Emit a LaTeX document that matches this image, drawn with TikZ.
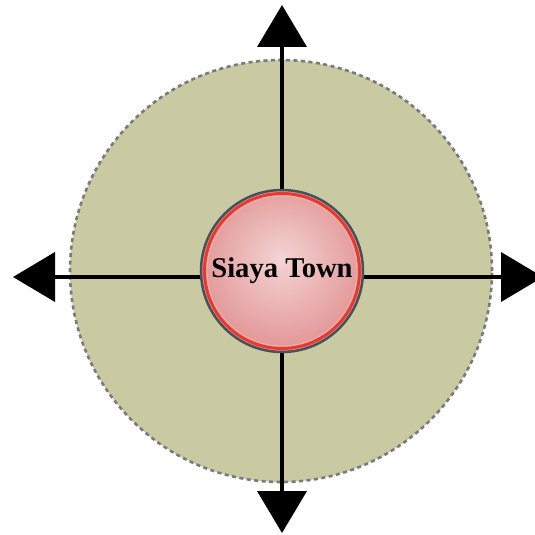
\documentclass[tikz,border=0pt]{standalone}
\usepackage{fontspec}
\setmainfont{Liberation Serif}
\usetikzlibrary{arrows.meta, positioning}
\definecolor{zonefill}{HTML}{C9CAA2}
\definecolor{zoneedge}{HTML}{7A7A7E}
\definecolor{townrim}{HTML}{46525A}
\definecolor{townring}{HTML}{E8392E}
\definecolor{townline}{HTML}{F2B4B0}
\definecolor{townlight}{HTML}{F4D4D4}
\definecolor{towndark}{HTML}{D25E5E}
\pgfdeclareradialshading{townglow}{\pgfpoint{0bp}{4bp}}{color(0bp)=(townlight); color(50bp)=(towndark)}
\tikzset{
  zone/.style={circle, draw=zoneedge, fill=zonefill, line width=2.6pt,
               dash pattern=on 4pt off 3.5pt, minimum size=422pt, inner sep=0pt},
  townbox/.style={circle, draw=townrim, line width=2.5pt, shading=townglow,
                  minimum size=162pt, inner sep=0pt,
                  font=\fontsize{28.6}{30}\selectfont\bfseries},
  roadarr/.style={-{Triangle[length=42pt, width=49pt]}, line width=4pt, color=black},
}

\begin{document}
\begin{tikzpicture}[x=1pt, y=-1pt]
  \useasboundingbox (0,0) rectangle (535,535);
  \node[zone] (area) at (281,271) {};
  \coordinate (hub)  at (282,277);
  \coordinate (ntip) at (282,5);
  \coordinate (stip) at (282,533);
  \coordinate (wtip) at (13,277);
  \coordinate (etip) at (543,277);
  \draw[roadarr] (hub) -- (ntip);
  \draw[roadarr] (hub) -- (stip);
  \draw[roadarr] (hub) -- (wtip);
  \draw[roadarr] (hub) -- (etip);
  \node[townbox] (town) at (282,271) {\raisebox{-2pt}{Siaya Town}};
  \draw[townring, line width=3pt] (town.center) circle (77.5pt);
  \draw[townline, line width=0.8pt] (town.center) circle (75pt);
\end{tikzpicture}
\end{document}
